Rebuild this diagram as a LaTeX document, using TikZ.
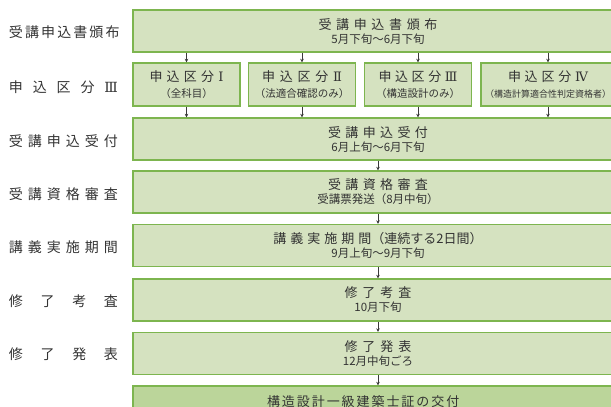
\documentclass[tikz,border=0pt]{standalone}
\usepackage{fontspec}
\setmainfont{Noto Sans CJK JP}
\newfontfamily\romfont{DejaVu Serif}
\usetikzlibrary{arrows.meta}
\definecolor{boxfill}{HTML}{D5E2C0}
\definecolor{boxline}{HTML}{7DB54F}
\definecolor{lastfill}{HTML}{BBD59A}
\definecolor{txt}{HTML}{333333}
\definecolor{arr}{HTML}{3A3A3A}
\newcommand\spc[2]{\makebox[#1][s]{#2}}
\newcommand\rom[1]{{\romfont #1}}
\newcommand\ttl{\fontsize{13}{17}\selectfont}
\newcommand\rtl{\fontsize{13}{18}\selectfont}
\newcommand\dte{\fontsize{11.5}{16}\selectfont}
\newcommand\sbt{\fontsize{10.5}{18}\selectfont}
\newcommand\lbl{\fontsize{14}{16}\selectfont}
\tikzset{
  x=1pt, y=-1pt,
  box/.style={draw=boxline, line width=1.4pt, fill=boxfill, inner sep=0pt, align=center, text=txt},
  mainbox/.style={box, minimum width=490pt, minimum height=42pt},
  subbox/.style={box, minimum width=107pt, minimum height=43pt},
  sidelbl/.style={inner sep=0pt, text=txt, font=\lbl},
  flow/.style={draw=arr, line width=0.8pt, -{Stealth[length=3.5pt,width=3.5pt]}},
}
\begin{document}
\begin{tikzpicture}
\useasboundingbox (0,0) rectangle (611,407);
\clip (0,0) rectangle (611,407);
% left labels
\node[sidelbl] (l1) at (63.5,32) {\spc{109pt}{受 講 申 込 書 頒 布}};
\node[sidelbl] (l2) at (63.5,87) {\spc{109pt}{申 込 区 分 \rom{Ⅲ}}};
\node[sidelbl] (l3) at (63.5,141) {\spc{109pt}{受 講 申 込 受 付}};
\node[sidelbl] (l4) at (63.5,194) {\spc{109pt}{受 講 資 格 審 査}};
\node[sidelbl] (l5) at (63.5,247) {\spc{109pt}{講 義 実 施 期 間}};
\node[sidelbl] (l6) at (63.5,301) {\spc{109pt}{修 了 考 査}};
\node[sidelbl] (l7) at (63.5,354) {\spc{109pt}{修 了 発 表}};
% boxes
\node[mainbox] (b1) at (378,31) {{\ttl\spc{119pt}{受 講 申 込 書 頒 布}}\\[2pt]{\dte 5月下旬～6月下旬}};
\node[subbox] (s1) at (186.5,84.5) {{\rtl\spc{74pt}{申 込 区 分 \rom{Ⅰ}}}\\[4pt]{\sbt （全科目）}};
\node[subbox] (s2) at (302,84.5) {{\rtl\spc{80pt}{申 込 区 分 \rom{Ⅱ}}}\\[4pt]{\sbt （法適合確認のみ）}};
\node[subbox] (s3) at (418,84.5) {{\rtl\spc{79pt}{申 込 区 分 \rom{Ⅲ}}}\\[4pt]{\sbt （構造設計のみ）}};
\node[subbox, minimum width=134pt] (s4) at (548,84.5) {{\rtl\spc{80pt}{申 込 区 分 \rom{Ⅳ}}}\\[4pt]{\fontsize{9}{18}\selectfont （構造計算適合性判定資格者）}};
\node[mainbox] (b3) at (378,139) {{\ttl\spc{100pt}{受 講 申 込 受 付}}\\[2pt]{\dte 6月上旬～6月下旬}};
\node[mainbox] (b4) at (378,192) {{\ttl\spc{100pt}{受 講 資 格 審 査}}\\[2pt]{\dte 受講票発送（8月中旬）}};
\node[mainbox] (b5) at (378,245.5) {{\ttl\spc{98pt}{講 義 実 施 期 間}（連続する2日間）}\\[2pt]{\dte 9月上旬～9月下旬}};
\node[mainbox] (b6) at (378,300) {{\ttl\spc{67pt}{修 了 考 査}}\\[2pt]{\dte 10月下旬}};
\node[mainbox] (b7) at (378,353.5) {{\ttl\spc{67pt}{修 了 発 表}}\\[2pt]{\dte 12月中旬ごろ}};
\node[mainbox, fill=lastfill] (b8) at (378,407) {\raisebox{12pt}{\hspace*{-32pt}{\ttl\spc{190pt}{構 造 設 計 一 級 建 築 士 証 の 交 付}}}};
% arrows
\foreach \s in {s1,s2,s3,s4} {
  \draw[flow] (b1.south -| \s.north) -- (\s.north);
  \draw[flow] (\s.south) -- (b3.north -| \s.south);
}
\draw[flow] (b3) -- (b4);
\draw[flow] (b4) -- (b5);
\draw[flow] (b5) -- (b6);
\draw[flow] (b6) -- (b7);
\draw[flow] (b7) -- (b8);
\end{tikzpicture}
\end{document}
